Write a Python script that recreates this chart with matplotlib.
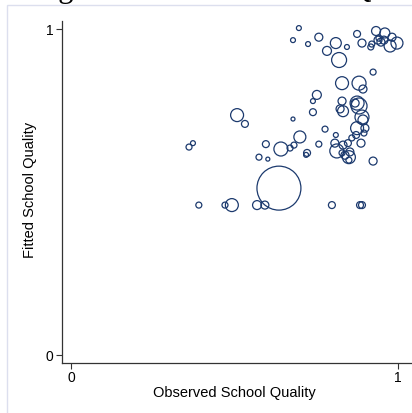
import numpy as np
import matplotlib
matplotlib.use("Agg")
import matplotlib.pyplot as plt
from matplotlib.patches import Rectangle

# school-level points: observed quality, fitted quality, enrolment weight
obs_q = [0.697, 0.679, 0.725, 0.758, 0.810, 0.844, 0.783, 0.820, 0.875, 0.890,
         0.933, 0.960, 0.982, 0.997, 0.976, 0.939, 0.948, 0.942, 0.920, 0.917,
         0.957, 0.924, 0.829, 0.881, 0.893, 0.752, 0.740, 0.829, 0.875, 0.881,
         0.869, 0.823, 0.832, 0.740, 0.890, 0.893, 0.679, 0.777, 0.875, 0.899,
         0.896, 0.872, 0.700, 0.810, 0.859, 0.758, 0.682, 0.807, 0.832, 0.847,
         0.887, 0.813, 0.722, 0.719, 0.853, 0.829, 0.850, 0.838, 0.850, 0.924,
         0.532, 0.508, 0.361, 0.373, 0.596, 0.642, 0.670, 0.575, 0.602, 0.636,
         0.391, 0.471, 0.492, 0.569, 0.593, 0.798, 0.884, 0.890]
fit_q = [1.003, 0.966, 0.954, 0.975, 0.957, 0.945, 0.933, 0.905, 0.985, 0.957,
         0.994, 0.988, 0.975, 0.957, 0.948, 0.966, 0.960, 0.972, 0.954, 0.945,
         0.966, 0.868, 0.834, 0.834, 0.816, 0.798, 0.779, 0.779, 0.773, 0.764,
         0.773, 0.755, 0.748, 0.745, 0.730, 0.721, 0.724, 0.693, 0.696, 0.696,
         0.681, 0.675, 0.669, 0.675, 0.666, 0.647, 0.644, 0.650, 0.644, 0.650,
         0.650, 0.626, 0.620, 0.614, 0.623, 0.620, 0.607, 0.613, 0.598, 0.595,
         0.709, 0.736, 0.638, 0.650, 0.647, 0.632, 0.635, 0.607, 0.601, 0.512,
         0.460, 0.460, 0.460, 0.460, 0.460, 0.460, 0.460, 0.460]
enroll = [6, 6, 6, 16, 30, 6, 20, 56, 12, 16,
          20, 25, 16, 36, 36, 16, 16, 9, 9, 9,
          16, 9, 42, 49, 16, 20, 6, 16, 49, 64,
          16, 16, 30, 12, 49, 25, 4, 9, 42, 16,
          9, 12, 36, 6, 9, 9, 9, 16, 16, 12,
          16, 49, 12, 6, 16, 9, 42, 16, 9, 16,
          12, 42, 9, 6, 12, 49, 9, 9, 4, 484,
          9, 9, 42, 20, 16, 12, 12, 12]

x_ticks = [0, 1]
y_ticks = [0, 1]

plt.rcParams['font.family'] = ['Liberation Sans', 'DejaVu Sans']

fig = plt.figure(figsize=(4.12, 4.13), dpi=100)
ax = fig.add_axes([0.1505, 0.121, 0.8495, 0.828])

# marker area follows enrolment weight
sizes = np.array(enroll) * 2.07
ax.scatter(obs_q, fit_q, s=sizes, facecolors='none', edgecolors='#1c3a6e',
           linewidths=0.9, clip_on=False)

ax.set_xlim(-0.0275, 1.043)
ax.set_ylim(-0.0245, 1.0245)
ax.set_xticks(x_ticks)
ax.set_yticks(y_ticks)
ax.tick_params(direction='out', length=4, width=0.8, color='#333333',
               labelsize=10, pad=2)
ax.tick_params(axis='y', labelrotation=0)
for side in ['top', 'right']:
    ax.spines[side].set_visible(False)
for side in ['left', 'bottom']:
    ax.spines[side].set_color('#333333')
    ax.spines[side].set_linewidth(0.9)

fig.text(30 / 412, 1 - 190 / 413, 'Fitted School Quality', rotation=90,
         ha='center', va='center', fontsize=10.5)
fig.text(234 / 412, 1 - 393 / 413, 'Observed School Quality',
         ha='center', va='center', fontsize=10.5)

# graph title, mostly above the visible area
fig.text(0.5, 1 + 3 / 413, 'Ranking and Observed School Quality',
         ha='center', va='baseline', fontsize=22,
         family=['Liberation Serif', 'DejaVu Serif'])

# outer graph region frame
fig.patches.append(Rectangle((7 / 412, -0.2), 1.5, 0.2 + (413 - 5) / 413,
                             transform=fig.transFigure, fill=False,
                             edgecolor='#dcdfee', linewidth=1.0))

fig.savefig('out.png', dpi=100)
